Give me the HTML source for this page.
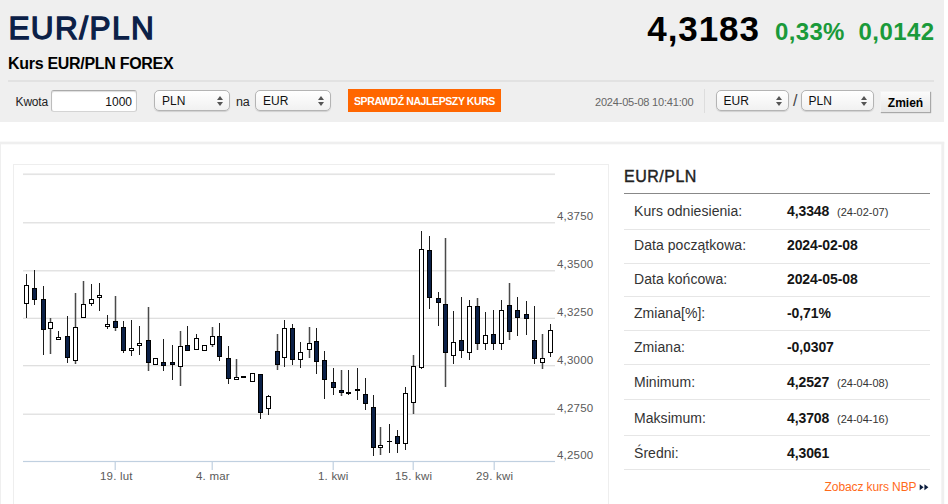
<!DOCTYPE html>
<html><head><meta charset="utf-8">
<style>
html,body{margin:0;padding:0;background:#fff;}
body{width:948px;height:504px;overflow:hidden;position:relative;font-family:"Liberation Sans",sans-serif;color:#222;}
.abs{position:absolute;white-space:nowrap;}
#hdr{left:0;top:0;width:944px;height:122px;background:#efefef;}
#title{left:8.4px;top:8px;font-size:31.6px;font-weight:normal;color:#0b2047;line-height:40px;letter-spacing:1.4px;-webkit-text-stroke:1.3px #0b2047;}
#sub{left:8px;top:54px;font-size:16px;font-weight:bold;color:#000;line-height:20px;letter-spacing:-0.3px;}
#hline{left:8px;top:80px;width:926px;height:2px;background:#e2e2e2;}
.lbl{font-size:12px;color:#222;line-height:14px;letter-spacing:-0.2px;}
.inp{background:#fff;border:1px solid #ccc;border-radius:3px;box-sizing:border-box;box-shadow:inset 0 1px 1px #ddd;}
.sel{background:linear-gradient(#fff,#f1f1f1);border:1px solid #b4b4b4;border-radius:5px;box-sizing:border-box;height:21px;font-size:12px;line-height:20px;color:#111;padding-left:7px;box-shadow:0 1px 1px rgba(0,0,0,0.13);}
.sel:after{content:"";position:absolute;right:6px;top:5px;border:3px solid transparent;border-bottom:4px solid #555;border-top:none;}
.sel:before{content:"";position:absolute;right:6px;top:11px;border:3px solid transparent;border-top:4px solid #555;border-bottom:none;}
#btn{left:348px;top:89px;width:153px;height:23px;background:#ff6600;color:#fff;font-size:10.5px;font-weight:bold;line-height:24.6px;overflow:hidden;text-align:center;letter-spacing:-0.4px;}
#price{left:647.3px;top:9px;font-size:35px;font-weight:bold;color:#000;line-height:40px;letter-spacing:0.9px;}
.grn{color:#1a9a3a;font-weight:bold;font-size:24px;line-height:28px;letter-spacing:0.2px;}
#zm{left:880px;top:91px;width:50px;height:20.5px;box-sizing:border-box;background:linear-gradient(#fbfbfb,#e6e6e6);border-top:1px solid #f4f4f4;border-left:1px solid #f2f2f2;box-shadow:1px 1px 1px #a8a8a8;font-size:12px;font-weight:bold;color:#000;text-align:center;line-height:22px;}
#panel{display:none;}
#inner{left:13px;top:164px;width:594px;height:400px;border:1px solid #eee;}
.ax{font-size:11.5px;color:#5a5a5a;letter-spacing:0.2px;line-height:12px;margin-top:0.4px;}
.th{left:624px;font-size:15px;color:#222;}
.row{left:624px;width:306px;height:1px;background:#e6e6e6;}
.k{left:634px;font-size:14px;color:#333;line-height:16px;margin-top:-1px;letter-spacing:0.05px;}
.v{left:787px;font-size:14px;font-weight:bold;color:#151515;line-height:16px;margin-top:-1px;letter-spacing:-0.1px;}
.d{left:837px;font-size:11px;color:#333;line-height:16px;margin-top:-1px;}
</style></head><body>
<div id="hdr" class="abs"></div>
<div id="title" class="abs">EUR/PLN</div>
<div id="sub" class="abs">Kurs EUR/PLN FOREX</div>
<div id="hline" class="abs"></div>
<div class="abs lbl" style="left:15.6px;top:94.7px;">Kwota</div>
<div class="abs inp" style="left:51px;top:90px;width:86px;height:22px;font-size:12px;line-height:22px;border-color:#aaa #c8c8c8 #d4d4d4 #bdbdbd;text-align:right;padding-right:4px;color:#111;">1000</div>
<div class="abs sel" style="left:154px;top:90px;width:76px;">PLN</div>
<div class="abs lbl" style="left:236px;top:94.5px;font-size:12.5px;">na</div>
<div class="abs sel" style="left:255px;top:90px;width:76px;">EUR</div>
<div id="btn" class="abs">SPRAWDŹ NAJLEPSZY KURS</div>
<div class="abs" style="left:595px;top:96px;font-size:11px;color:#666;line-height:12px;letter-spacing:-0.2px;">2024-05-08 10:41:00</div>
<div class="abs" style="left:704px;top:89px;width:1px;height:24px;background:#ddd;"></div>
<div class="abs sel" style="left:716px;top:90px;width:73px;padding-left:6.5px;">EUR</div>
<div class="abs" style="left:793px;top:92px;font-size:16px;color:#444;line-height:18px;">/</div>
<div class="abs sel" style="left:801px;top:90px;width:73px;padding-left:6.5px;">PLN</div>
<div id="zm" class="abs">Zmień</div>
<div id="price" class="abs">4,3183</div>
<div class="abs grn" style="left:775px;top:18px;letter-spacing:0.35px;">0,33%</div>
<div class="abs grn" style="left:858.6px;top:18px;letter-spacing:0.4px;">0,0142</div>

<div id="panel" class="abs"></div>
<div id="inner" class="abs"></div>

<svg class="abs" style="left:0;top:0" width="948" height="504" viewBox="0 0 948 504">
<g fill="#efefef"><rect x="0" y="141.6" width="944.2" height="2.7"/><rect x="0" y="142" width="1" height="362"/><rect x="941.3" y="142" width="2.9" height="362"/></g>
<g fill="#e4e4e4">
<rect x="23" y="173.4" width="532" height="1.7"/>
</g>
<g fill="#dcdcdc" id="grid">
<rect x="23" y="222.2" width="532" height="1.2"/>
<rect x="23" y="270.2" width="532" height="1.2"/>
<rect x="23" y="317.7" width="532" height="1.2"/>
<rect x="23" y="365.1" width="532" height="1.2"/>
<rect x="23" y="413.6" width="532" height="1.2"/>
</g>
<rect x="23" y="460.9" width="532" height="1.2" fill="#c0d0e0"/>
<g fill="#c0d0e0"><rect x="114.6" y="461" width="1.2" height="9"/><rect x="211.6" y="461" width="1.2" height="9"/><rect x="332.6" y="461" width="1.2" height="9"/><rect x="412.6" y="461" width="1.2" height="9"/><rect x="493.6" y="461" width="1.2" height="9"/></g>
<path d="M919.7 484.3L923.6 487.3L919.7 490.3Z M924.4 484.3L928.4 487.3L924.4 490.3Z" fill="#0b1c3d"/>
<g id="candles" shape-rendering="crispEdges">
<rect x="26" y="274" width="1" height="44" fill="#1c1c1c"/>
<rect x="24" y="285" width="5" height="19" fill="#000"/>
<rect x="25" y="286" width="3" height="17" fill="#fff"/>
<rect x="34" y="270" width="1" height="35" fill="#1c1c1c"/>
<rect x="32" y="288" width="5" height="12" fill="#000"/>
<rect x="33" y="289" width="3" height="10" fill="#0b2047"/>
<rect x="43" y="286" width="1" height="69" fill="#1c1c1c"/>
<rect x="41" y="299" width="5" height="31" fill="#000"/>
<rect x="42" y="300" width="3" height="29" fill="#0b2047"/>
<rect x="49.75" y="318" width="1.5" height="36" fill="#4a4a4a" shape-rendering="auto"/>
<rect x="48" y="322" width="5" height="7" fill="#000"/>
<rect x="49" y="323" width="3" height="5" fill="#fff"/>
<rect x="58" y="331" width="1" height="9" fill="#1c1c1c"/>
<rect x="56" y="337" width="5" height="3" fill="#000"/>
<rect x="57" y="338" width="3" height="1" fill="#fff"/>
<rect x="67" y="316" width="1" height="47" fill="#1c1c1c"/>
<rect x="65" y="336" width="5" height="22" fill="#000"/>
<rect x="66" y="337" width="3" height="20" fill="#0b2047"/>
<rect x="74.75" y="293" width="1.5" height="71" fill="#4a4a4a" shape-rendering="auto"/>
<rect x="73" y="327" width="5" height="34" fill="#000"/>
<rect x="74" y="328" width="3" height="32" fill="#fff"/>
<rect x="82.75" y="281" width="1.5" height="37" fill="#4a4a4a" shape-rendering="auto"/>
<rect x="81" y="304" width="5" height="14" fill="#000"/>
<rect x="82" y="305" width="3" height="12" fill="#fff"/>
<rect x="91" y="284" width="1" height="22" fill="#1c1c1c"/>
<rect x="89" y="299" width="5" height="5" fill="#000"/>
<rect x="90" y="300" width="3" height="3" fill="#fff"/>
<rect x="99" y="283" width="1" height="28" fill="#1c1c1c"/>
<rect x="97" y="295" width="5" height="3" fill="#000"/>
<rect x="98" y="296" width="3" height="1" fill="#fff"/>
<rect x="107" y="315" width="1" height="14" fill="#1c1c1c"/>
<rect x="105" y="324" width="5" height="3" fill="#000"/>
<rect x="106" y="325" width="3" height="1" fill="#fff"/>
<rect x="114.75" y="296" width="1.5" height="35" fill="#4a4a4a" shape-rendering="auto"/>
<rect x="113" y="321" width="5" height="7" fill="#000"/>
<rect x="114" y="322" width="3" height="5" fill="#0b2047"/>
<rect x="123" y="321" width="1" height="32" fill="#1c1c1c"/>
<rect x="121" y="327" width="5" height="24" fill="#000"/>
<rect x="122" y="328" width="3" height="22" fill="#0b2047"/>
<rect x="131" y="320" width="1" height="36" fill="#1c1c1c"/>
<rect x="129" y="348" width="5" height="3" fill="#000"/>
<rect x="130" y="349" width="3" height="1" fill="#fff"/>
<rect x="139" y="326" width="1" height="29" fill="#1c1c1c"/>
<rect x="137" y="343" width="5" height="3" fill="#000"/>
<rect x="138" y="344" width="3" height="1" fill="#fff"/>
<rect x="147.75" y="307" width="1.5" height="64" fill="#4a4a4a" shape-rendering="auto"/>
<rect x="146" y="340" width="5" height="23" fill="#000"/>
<rect x="147" y="341" width="3" height="21" fill="#0b2047"/>
<rect x="155" y="358" width="1" height="7" fill="#1c1c1c"/>
<rect x="153" y="358" width="5" height="7" fill="#000"/>
<rect x="154" y="359" width="3" height="5" fill="#fff"/>
<rect x="163" y="339" width="1" height="32" fill="#1c1c1c"/>
<rect x="161" y="362" width="5" height="4" fill="#000"/>
<rect x="162" y="363" width="3" height="2" fill="#0b2047"/>
<rect x="172" y="345" width="1" height="35" fill="#1c1c1c"/>
<rect x="170" y="362" width="5" height="3" fill="#000"/>
<rect x="171" y="363" width="3" height="1" fill="#0b2047"/>
<rect x="179.75" y="331" width="1.5" height="55" fill="#4a4a4a" shape-rendering="auto"/>
<rect x="178" y="346" width="5" height="21" fill="#000"/>
<rect x="179" y="347" width="3" height="19" fill="#fff"/>
<rect x="187" y="326" width="1" height="25" fill="#1c1c1c"/>
<rect x="185" y="345" width="5" height="6" fill="#000"/>
<rect x="186" y="346" width="3" height="4" fill="#0b2047"/>
<rect x="196" y="334" width="1" height="16" fill="#1c1c1c"/>
<rect x="194" y="338" width="5" height="12" fill="#000"/>
<rect x="195" y="339" width="3" height="10" fill="#fff"/>
<rect x="204" y="345" width="1" height="6" fill="#1c1c1c"/>
<rect x="202" y="345" width="5" height="6" fill="#000"/>
<rect x="203" y="346" width="3" height="4" fill="#fff"/>
<rect x="211.75" y="327" width="1.5" height="20" fill="#4a4a4a" shape-rendering="auto"/>
<rect x="210" y="336" width="5" height="9" fill="#000"/>
<rect x="211" y="337" width="3" height="7" fill="#fff"/>
<rect x="219" y="323" width="1" height="38" fill="#1c1c1c"/>
<rect x="217" y="336" width="5" height="21" fill="#000"/>
<rect x="218" y="337" width="3" height="19" fill="#0b2047"/>
<rect x="228" y="346" width="1" height="38" fill="#1c1c1c"/>
<rect x="226" y="358" width="5" height="21" fill="#000"/>
<rect x="227" y="359" width="3" height="19" fill="#0b2047"/>
<rect x="235.75" y="359" width="1.5" height="21" fill="#4a4a4a" shape-rendering="auto"/>
<rect x="234" y="377" width="5" height="3" fill="#000"/>
<rect x="235" y="378" width="3" height="1" fill="#fff"/>
<rect x="243" y="376" width="1" height="2" fill="#1c1c1c"/>
<rect x="241" y="376" width="5" height="2" fill="#000"/>
<rect x="252" y="373" width="1" height="9" fill="#1c1c1c"/>
<rect x="250" y="373" width="5" height="9" fill="#000"/>
<rect x="251" y="374" width="3" height="7" fill="#fff"/>
<rect x="260" y="374" width="1" height="45" fill="#1c1c1c"/>
<rect x="258" y="374" width="5" height="39" fill="#000"/>
<rect x="259" y="375" width="3" height="37" fill="#0b2047"/>
<rect x="268" y="395" width="1" height="20" fill="#1c1c1c"/>
<rect x="266" y="396" width="5" height="13" fill="#000"/>
<rect x="267" y="397" width="3" height="11" fill="#fff"/>
<rect x="276.75" y="334" width="1.5" height="36" fill="#4a4a4a" shape-rendering="auto"/>
<rect x="275" y="351" width="5" height="14" fill="#000"/>
<rect x="276" y="352" width="3" height="12" fill="#0b2047"/>
<rect x="284" y="320" width="1" height="47" fill="#1c1c1c"/>
<rect x="282" y="328" width="5" height="30" fill="#000"/>
<rect x="283" y="329" width="3" height="28" fill="#fff"/>
<rect x="292" y="324" width="1" height="41" fill="#1c1c1c"/>
<rect x="290" y="328" width="5" height="32" fill="#000"/>
<rect x="291" y="329" width="3" height="30" fill="#0b2047"/>
<rect x="300" y="342" width="1" height="26" fill="#1c1c1c"/>
<rect x="298" y="352" width="5" height="8" fill="#000"/>
<rect x="299" y="353" width="3" height="6" fill="#fff"/>
<rect x="308.75" y="327" width="1.5" height="31" fill="#4a4a4a" shape-rendering="auto"/>
<rect x="307" y="343" width="5" height="7" fill="#000"/>
<rect x="308" y="344" width="3" height="5" fill="#fff"/>
<rect x="316" y="328" width="1" height="46" fill="#1c1c1c"/>
<rect x="314" y="341" width="5" height="21" fill="#000"/>
<rect x="315" y="342" width="3" height="19" fill="#0b2047"/>
<rect x="324" y="351" width="1" height="48" fill="#1c1c1c"/>
<rect x="322" y="360" width="5" height="20" fill="#000"/>
<rect x="323" y="361" width="3" height="18" fill="#0b2047"/>
<rect x="333" y="368" width="1" height="27" fill="#1c1c1c"/>
<rect x="331" y="382" width="5" height="6" fill="#000"/>
<rect x="332" y="383" width="3" height="4" fill="#0b2047"/>
<rect x="340.75" y="370" width="1.5" height="26" fill="#4a4a4a" shape-rendering="auto"/>
<rect x="339" y="390" width="5" height="3" fill="#000"/>
<rect x="340" y="391" width="3" height="1" fill="#0b2047"/>
<rect x="348" y="370" width="1" height="25" fill="#1c1c1c"/>
<rect x="346" y="392" width="5" height="2" fill="#000"/>
<rect x="357" y="368" width="1" height="32" fill="#1c1c1c"/>
<rect x="355" y="389" width="5" height="2" fill="#000"/>
<rect x="365" y="378" width="1" height="32" fill="#1c1c1c"/>
<rect x="363" y="394" width="5" height="10" fill="#000"/>
<rect x="364" y="395" width="3" height="8" fill="#0b2047"/>
<rect x="373" y="395" width="1" height="61" fill="#1c1c1c"/>
<rect x="371" y="407" width="5" height="41" fill="#000"/>
<rect x="372" y="408" width="3" height="39" fill="#0b2047"/>
<rect x="379.75" y="427" width="1.5" height="28" fill="#4a4a4a" shape-rendering="auto"/>
<rect x="378" y="445" width="5" height="3" fill="#000"/>
<rect x="379" y="446" width="3" height="1" fill="#fff"/>
<rect x="389" y="424" width="1" height="29" fill="#1c1c1c"/>
<rect x="387" y="441" width="5" height="1" fill="#000"/>
<rect x="397" y="430" width="1" height="23" fill="#1c1c1c"/>
<rect x="395" y="436" width="5" height="8" fill="#000"/>
<rect x="396" y="437" width="3" height="6" fill="#0b2047"/>
<rect x="405" y="387" width="1" height="63" fill="#1c1c1c"/>
<rect x="403" y="393" width="5" height="51" fill="#000"/>
<rect x="404" y="394" width="3" height="49" fill="#fff"/>
<rect x="412.75" y="355" width="1.5" height="59" fill="#4a4a4a" shape-rendering="auto"/>
<rect x="411" y="366" width="5" height="37" fill="#000"/>
<rect x="412" y="367" width="3" height="35" fill="#fff"/>
<rect x="421" y="231" width="1" height="138" fill="#1c1c1c"/>
<rect x="419" y="249" width="5" height="119" fill="#000"/>
<rect x="420" y="250" width="3" height="117" fill="#fff"/>
<rect x="429" y="236" width="1" height="73" fill="#1c1c1c"/>
<rect x="427" y="250" width="5" height="48" fill="#000"/>
<rect x="428" y="251" width="3" height="46" fill="#0b2047"/>
<rect x="438" y="292" width="1" height="34" fill="#1c1c1c"/>
<rect x="436" y="298" width="5" height="5" fill="#000"/>
<rect x="437" y="299" width="3" height="3" fill="#0b2047"/>
<rect x="444.75" y="238" width="1.5" height="149" fill="#4a4a4a" shape-rendering="auto"/>
<rect x="443" y="304" width="5" height="49" fill="#000"/>
<rect x="444" y="305" width="3" height="47" fill="#0b2047"/>
<rect x="453" y="311" width="1" height="53" fill="#1c1c1c"/>
<rect x="451" y="342" width="5" height="14" fill="#000"/>
<rect x="452" y="343" width="3" height="12" fill="#fff"/>
<rect x="461" y="297" width="1" height="61" fill="#1c1c1c"/>
<rect x="459" y="340" width="5" height="11" fill="#000"/>
<rect x="460" y="341" width="3" height="9" fill="#0b2047"/>
<rect x="469" y="300" width="1" height="60" fill="#1c1c1c"/>
<rect x="467" y="306" width="5" height="47" fill="#000"/>
<rect x="468" y="307" width="3" height="45" fill="#fff"/>
<rect x="476.75" y="298" width="1.5" height="52" fill="#4a4a4a" shape-rendering="auto"/>
<rect x="475" y="306" width="5" height="38" fill="#000"/>
<rect x="476" y="307" width="3" height="36" fill="#0b2047"/>
<rect x="485" y="312" width="1" height="38" fill="#1c1c1c"/>
<rect x="483" y="335" width="5" height="9" fill="#000"/>
<rect x="484" y="336" width="3" height="7" fill="#fff"/>
<rect x="493" y="310" width="1" height="40" fill="#1c1c1c"/>
<rect x="491" y="334" width="5" height="10" fill="#000"/>
<rect x="492" y="335" width="3" height="8" fill="#0b2047"/>
<rect x="501" y="300" width="1" height="50" fill="#1c1c1c"/>
<rect x="499" y="310" width="5" height="34" fill="#000"/>
<rect x="500" y="311" width="3" height="32" fill="#fff"/>
<rect x="508.75" y="283" width="1.5" height="57" fill="#4a4a4a" shape-rendering="auto"/>
<rect x="507" y="305" width="5" height="27" fill="#000"/>
<rect x="508" y="306" width="3" height="25" fill="#0b2047"/>
<rect x="517" y="297" width="1" height="39" fill="#1c1c1c"/>
<rect x="515" y="310" width="5" height="8" fill="#000"/>
<rect x="516" y="311" width="3" height="6" fill="#0b2047"/>
<rect x="526" y="301" width="1" height="34" fill="#1c1c1c"/>
<rect x="524" y="314" width="5" height="5" fill="#000"/>
<rect x="525" y="315" width="3" height="3" fill="#0b2047"/>
<rect x="534" y="306" width="1" height="58" fill="#1c1c1c"/>
<rect x="532" y="340" width="5" height="19" fill="#000"/>
<rect x="533" y="341" width="3" height="17" fill="#0b2047"/>
<rect x="541.75" y="334" width="1.5" height="35" fill="#4a4a4a" shape-rendering="auto"/>
<rect x="540" y="358" width="5" height="5" fill="#000"/>
<rect x="541" y="359" width="3" height="3" fill="#fff"/>
<rect x="550" y="324" width="1" height="33" fill="#1c1c1c"/>
<rect x="548" y="330" width="5" height="23" fill="#000"/>
<rect x="549" y="331" width="3" height="21" fill="#fff"/>
</g>
</svg>

<div class="abs ax" style="left:557px;top:210px;">4,3750</div>
<div class="abs ax" style="left:557px;top:258px;">4,3500</div>
<div class="abs ax" style="left:557px;top:306px;">4,3250</div>
<div class="abs ax" style="left:557px;top:354px;">4,3000</div>
<div class="abs ax" style="left:557px;top:402px;">4,2750</div>
<div class="abs ax" style="left:557px;top:449px;">4,2500</div>
<div class="abs ax" style="left:100px;top:470px;">19. lut</div>
<div class="abs ax" style="left:196px;top:470px;">4. mar</div>
<div class="abs ax" style="left:318px;top:470px;">1. kwi</div>
<div class="abs ax" style="left:395px;top:470px;">15. kwi</div>
<div class="abs ax" style="left:476px;top:470px;">29. kwi</div>

<div class="abs" style="left:624px;top:166.6px;font-size:16px;color:#222;line-height:20px;letter-spacing:0.5px;-webkit-text-stroke:0.4px #222;">EUR/PLN</div>
<div class="abs" style="left:624px;top:193px;width:306px;height:1px;background:#888;"></div>
<div class="abs k" style="top:204px;">Kurs odniesienia:</div><div class="abs v" style="top:204px;">4,3348</div><div class="abs d" style="top:205px;">(24-02-07)</div>
<div class="abs row" style="top:229px;"></div>
<div class="abs k" style="top:238px;">Data początkowa:</div><div class="abs v" style="top:238px;">2024-02-08</div>
<div class="abs row" style="top:263px;"></div>
<div class="abs k" style="top:272px;">Data końcowa:</div><div class="abs v" style="top:272px;">2024-05-08</div>
<div class="abs row" style="top:296px;"></div>
<div class="abs k" style="top:306px;">Zmiana[%]:</div><div class="abs v" style="top:306px;">-0,71%</div>
<div class="abs row" style="top:330px;"></div>
<div class="abs k" style="top:340px;">Zmiana:</div><div class="abs v" style="top:340px;">-0,0307</div>
<div class="abs row" style="top:364px;"></div>
<div class="abs k" style="top:375px;">Minimum:</div><div class="abs v" style="top:375px;">4,2527</div><div class="abs d" style="top:376px;">(24-04-08)</div>
<div class="abs row" style="top:399px;"></div>
<div class="abs k" style="top:410.6px;">Maksimum:</div><div class="abs v" style="top:410.6px;">4,3708</div><div class="abs d" style="top:411.6px;">(24-04-16)</div>
<div class="abs row" style="top:435px;"></div>
<div class="abs k" style="top:445.6px;">Średni:</div><div class="abs v" style="top:445.6px;">4,3061</div>
<div class="abs row" style="top:469px;"></div>
<div class="abs" style="left:824.6px;top:480px;font-size:12px;color:#ff6a1a;line-height:14px;letter-spacing:-0.1px;">Zobacz kurs NBP</div>
</body></html>
